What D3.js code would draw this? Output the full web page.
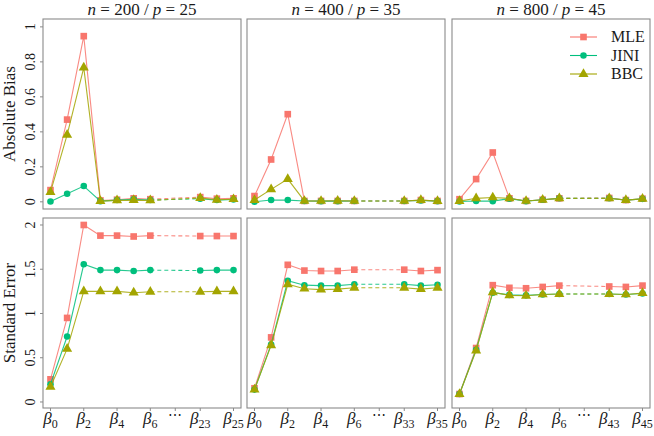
<!DOCTYPE html>
<html lang="en">
<head>
<meta charset="utf-8">
<script src="https://d3js.org/d3.v7.min.js"></script>
<style>
  body { margin: 0; background: #fff; }
  svg { font-family: "Liberation Serif", "Times New Roman", Times, "DejaVu Serif", serif; }
  svg text { fill: #1a1a1a; }
</style>
</head>
<body>
<div id="chart"></div>
<script>
// ---- data ----
var methods = ["MLE", "JINI", "BBC"];
var colors = ["#F8766D", "#00BF7D", "#A3A500"];
var sampleSizes = [200, 400, 800];
var dims = [25, 35, 45];
var biasTicks = [0, 0.2, 0.4, 0.6, 0.8, 1];
var seTicks = [0, 0.5, 1, 1.5, 2];

// coefficients shown: beta_0..beta_6, then beta_{p-2}..beta_p
var bias200_MLE  = [0.067, 0.47, 0.947, 0.008, 0.012, 0.02, 0.015, 0.027, 0.018, 0.02];
var bias200_JINI = [0.002, 0.046, 0.09, 0.004, 0.01, 0.015, 0.01, 0.018, 0.01, 0.013];
var bias200_BBC  = [0.055, 0.383, 0.767, 0.004, 0.008, 0.01, 0.008, 0.022, 0.012, 0.015];

var bias400_MLE  = [0.033, 0.242, 0.501, 0.005, 0.005, 0.005, 0.005, 0.005, 0.01, 0.005];
var bias400_JINI = [0.0, 0.01, 0.01, 0.005, 0.004, 0.004, 0.005, 0.005, 0.008, 0.004];
var bias400_BBC  = [0.01, 0.071, 0.13, 0.005, 0.005, 0.006, 0.005, 0.005, 0.01, 0.004];

var bias800_MLE  = [0.015, 0.13, 0.282, 0.02, 0.005, 0.012, 0.02, 0.022, 0.01, 0.018];
var bias800_JINI = [0.002, 0.005, 0.004, 0.018, 0.004, 0.012, 0.02, 0.02, 0.01, 0.017];
var bias800_BBC  = [0.004, 0.02, 0.025, 0.02, 0.005, 0.012, 0.02, 0.02, 0.01, 0.017];

var se200_MLE  = [0.256, 0.95, 2.0, 1.88, 1.88, 1.87, 1.88, 1.875, 1.875, 1.875];
var se200_JINI = [0.2, 0.74, 1.556, 1.49, 1.49, 1.48, 1.49, 1.485, 1.49, 1.49];
var se200_BBC  = [0.17, 0.6, 1.25, 1.25, 1.25, 1.235, 1.245, 1.245, 1.25, 1.25];

var se400_MLE  = [0.155, 0.73, 1.55, 1.485, 1.48, 1.48, 1.495, 1.495, 1.48, 1.49];
var se400_JINI = [0.14, 0.65, 1.37, 1.32, 1.315, 1.315, 1.33, 1.33, 1.315, 1.325];
var se400_BBC  = [0.14, 0.64, 1.33, 1.28, 1.27, 1.275, 1.29, 1.29, 1.275, 1.29];

var se800_MLE  = [0.09, 0.61, 1.32, 1.29, 1.285, 1.30, 1.315, 1.305, 1.30, 1.315];
var se800_JINI = [0.09, 0.59, 1.235, 1.21, 1.205, 1.215, 1.22, 1.22, 1.215, 1.225];
var se800_BBC  = [0.09, 0.58, 1.24, 1.205, 1.2, 1.215, 1.22, 1.22, 1.215, 1.23];

var biasData = [
  [bias200_MLE, bias200_JINI, bias200_BBC],
  [bias400_MLE, bias400_JINI, bias400_BBC],
  [bias800_MLE, bias800_JINI, bias800_BBC]
];
var seData = [
  [se200_MLE, se200_JINI, se200_BBC],
  [se400_MLE, se400_JINI, se400_BBC],
  [se800_MLE, se800_JINI, se800_BBC]
];

// ---- layout ----
var width = 654, height = 436;
var panelLeft = [43, 247, 452];
var panelW = 198;
var rows = [
  { top: 19, bottom: 209, domain: [-0.041, 1.045], ticks: biasTicks, title: "Absolute Bias", data: biasData },
  { top: 218, bottom: 408, domain: [-0.068, 2.079], ticks: seTicks, title: "Standard Error", data: seData }
];
var frameColor = "#8a8a8a";

var svg = d3.select('#chart')
  .append('svg')
  .attr('width', width)
  .attr('height', height);

// slot on the x axis for the i-th coefficient shown (gap after beta_6)
function slot(i) { return i < 7 ? i : i + 2; }

var symbols = [d3.symbolSquare, d3.symbolCircle, d3.symbolTriangle];
var symbolSizes = [44, 34, 44];

panelLeft.forEach(function (left, c) {
  var x = d3.scaleLinear()
    .domain([-0.45, 11.45])
    .range([left, left + panelW]);

  // panel title
  var title = svg.append('text')
    .attr('x', left + panelW / 2)
    .attr('y', 15)
    .attr('text-anchor', 'middle')
    .style('font-size', '17px');
  title.append('tspan').style('font-style', 'italic').text('n');
  title.append('tspan').text(' = ' + sampleSizes[c] + ' / ');
  title.append('tspan').style('font-style', 'italic').text('p');
  title.append('tspan').text(' = ' + dims[c]);

  rows.forEach(function (row, r) {
    var y = d3.scaleLinear()
      .domain(row.domain)
      .range([row.bottom, row.top]);

    var g = svg.append('g');

    g.append('rect')
      .attr('x', left)
      .attr('y', row.top)
      .attr('width', panelW)
      .attr('height', row.bottom - row.top)
      .attr('fill', '#fff')
      .attr('stroke', frameColor)
      .attr('stroke-width', 1.1);

    // y axis on the first column only
    if (c === 0) {
      row.ticks.forEach(function (t) {
        g.append('line')
          .attr('x1', left - 3).attr('x2', left)
          .attr('y1', y(t)).attr('y2', y(t))
          .attr('stroke', frameColor);
        g.append('text')
          .attr('transform', 'translate(' + (left - 8) + ',' + y(t) + ') rotate(-90)')
          .attr('text-anchor', 'middle')
          .style('font-size', '14px')
          .text(t);
      });
      g.append('text')
        .attr('transform', 'translate(15,' + ((row.top + row.bottom) / 2) + ') rotate(-90)')
        .attr('text-anchor', 'middle')
        .style('font-size', '17px')
        .text(row.title);
    }

    // x ticks on the bottom row
    if (r === 1) {
      var p = dims[c];
      var xt = [
        { s: 0, lab: "0" }, { s: 2, lab: "2" }, { s: 4, lab: "4" }, { s: 6, lab: "6" },
        { s: 7.5, lab: null }, { s: 9, lab: String(p - 2) }, { s: 11, lab: String(p) }
      ];
      xt.forEach(function (t) {
        g.append('line')
          .attr('x1', x(t.s)).attr('x2', x(t.s))
          .attr('y1', row.bottom).attr('y2', row.bottom + 3)
          .attr('stroke', frameColor);
        if (t.lab === null) {
          g.append('text')
            .attr('x', x(t.s))
            .attr('y', row.bottom + 12)
            .attr('text-anchor', 'middle')
            .style('font-size', '14px')
            .text('\u22EF');
        } else {
          var tx = g.append('text')
            .attr('x', x(t.s))
            .attr('y', row.bottom + 16)
            .attr('text-anchor', 'middle')
            .style('font-size', '17px');
          tx.append('tspan').style('font-style', 'italic').text('\u03B2');
          tx.append('tspan')
            .attr('dy', 4)
            .style('font-size', '12px')
            .text(t.lab);
        }
      });
    }

    // series
    row.data[c].forEach(function (vals, m) {
      var pts = vals.map(function (v, i) { return [x(slot(i)), y(v)]; });
      var line = d3.line();
      g.append('path')
        .attr('d', line(pts.slice(0, 7)))
        .attr('fill', 'none')
        .attr('stroke', colors[m])
        .attr('stroke-width', 1.1)
        .attr('stroke-opacity', 0.85);
      g.append('path')
        .attr('d', line(pts.slice(6, 7).concat(pts.slice(7, 8))))
        .attr('fill', 'none')
        .attr('stroke', colors[m])
        .attr('stroke-width', 1.1)
        .attr('stroke-opacity', 0.85)
        .attr('stroke-dasharray', '4,3');
      g.append('path')
        .attr('d', line(pts.slice(7)))
        .attr('fill', 'none')
        .attr('stroke', colors[m])
        .attr('stroke-width', 1.1)
        .attr('stroke-opacity', 0.85);
      g.selectAll(null)
        .data(pts)
        .enter()
        .append('path')
        .attr('transform', function (d) { return 'translate(' + d[0] + ',' + d[1] + ')'; })
        .attr('d', d3.symbol().type(symbols[m]).size(symbolSizes[m]))
        .attr('fill', colors[m]);
    });
  });
});

// legend in the top right panel
var legend = svg.selectAll('.legend')
  .data(methods)
  .enter()
  .append('g')
  .attr('class', 'legend')
  .attr('transform', function (d, i) { return 'translate(570,' + (37 + i * 18.5) + ')'; });

legend.append('line')
  .attr('x1', 0).attr('x2', 27)
  .attr('stroke', function (d, i) { return colors[i]; })
  .attr('stroke-width', 1.1);
legend.append('path')
  .attr('transform', 'translate(13.5,0)')
  .attr('d', function (d, i) { return d3.symbol().type(symbols[i]).size(symbolSizes[i])(); })
  .attr('fill', function (d, i) { return colors[i]; });
legend.append('text')
  .attr('x', 41)
  .attr('y', 5)
  .style('font-size', '16px')
  .text(function (d) { return d; });
</script>
</body>
</html>
